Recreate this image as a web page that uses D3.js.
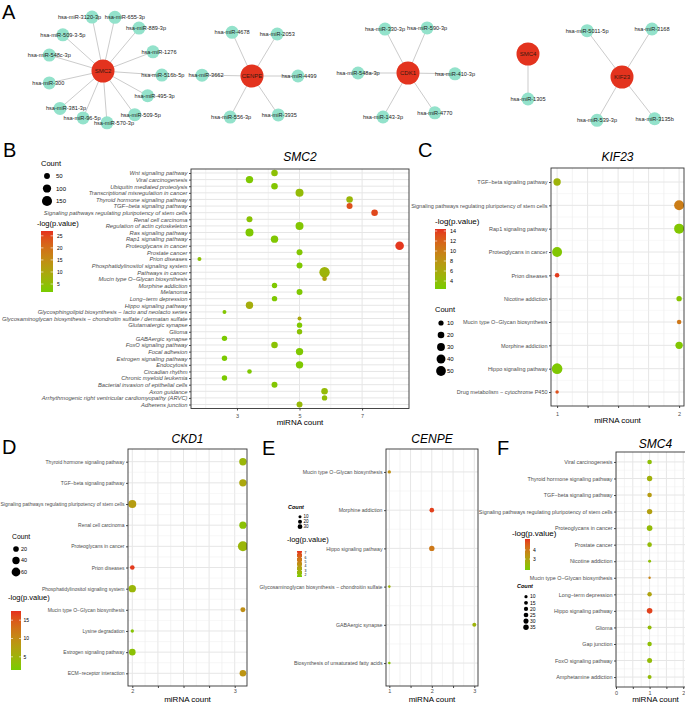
<!DOCTYPE html>
<html><head><meta charset="utf-8">
<script src="https://cdn.jsdelivr.net/npm/d3@7"></script>
<style>body{margin:0;background:#fff}svg{display:block;font-family:"Liberation Sans",Arial,sans-serif}</style>
</head><body><svg id="chart" width="685" height="703"></svg>
<script>
// ================= DATA =================
// Panel A: hub genes and their target miRNAs
const hubGenes = ["SMC2", "CENPE", "CDK1", "SMC4", "KIF23"];
const smc2Targets = ["hsa-miR-3120-3p","hsa-miR-655-3p","hsa-miR-889-3p","hsa-miR-509-3-5p","hsa-miR-1276","hsa-miR-548c-3p","hsa-miR-516b-5p","hsa-miR-300","hsa-miR-495-3p","hsa-miR-381-3p","hsa-miR-509-5p","hsa-miR-96-5p","hsa-miR-570-3p"];
const cenpeTargets = ["hsa-miR-4678","hsa-miR-2053","hsa-miR-3662","hsa-miR-4499","hsa-miR-556-3p","hsa-miR-3935"];
const cdk1Targets = ["hsa-miR-330-3p","hsa-miR-590-3p","hsa-miR-548a-3p","hsa-miR-410-3p","hsa-miR-143-3p","hsa-miR-4770"];
const smc4Targets = ["hsa-miR-1305"];
const kif23Targets = ["hsa-miR-5011-5p","hsa-miR-3168","hsa-miR-539-3p","hsa-miR-3135b"];

// Panel B: SMC2
const smc2Pathways = ["Wnt signaling pathway","Viral carcinogenesis","Ubiquitin mediated proteolysis","Transcriptional misregulation in cancer","Thyroid hormone signaling pathway","TGF\u2212beta signaling pathway","Signaling pathways regulating pluripotency of stem cells","Renal cell carcinoma","Regulation of actin cytoskeleton","Ras signaling pathway","Rap1 signaling pathway","Proteoglycans in cancer","Prostate cancer","Prion diseases","Phosphatidylinositol signaling system","Pathways in cancer","Mucin type O\u2212Glycan biosynthesis","Morphine addiction","Melanoma","Long\u2212term depression","Hippo signaling pathway","Glycosphingolipid biosynthesis \u2212 lacto and neolacto series","Glycosaminoglycan biosynthesis \u2212 chondroitin sulfate / dermatan sulfate","Glutamatergic synapse","Glioma","GABAergic synapse","FoxO signaling pathway","Focal adhesion","Estrogen signaling pathway","Endocytosis","Circadian rhythm","Chronic myeloid leukemia","Bacterial invasion of epithelial cells","Axon guidance","Arrhythmogenic right ventricular cardiomyopathy (ARVC)","Adherens junction"];
const smc2MirnaCount = [4.2,3.4,4.2,5.0,6.6,6.6,7.4,3.4,5.0,3.4,4.2,8.2,5.0,1.8,5.0,5.8,5.8,4.2,5.0,4.2,3.4,2.6,5.0,5.0,5.0,2.6,4.2,5.0,2.6,5.0,3.4,2.6,4.2,5.8,5.8,5.0];
const smc2GeneCount = [63,80,63,94,63,52,63,52,94,94,80,109,52,22,52,160,30,42,52,42,80,22,22,42,42,42,63,80,42,80,30,42,52,63,42,52];
const smc2LogP = [4.5,2.5,3,5.5,6.5,24,25,4,3,2.5,2.8,26.5,3,4.5,2.5,7,11,2.5,2.5,2.5,8.5,3,9.5,2.5,4,2.2,4,2.5,2.2,2.5,2.5,2.2,3,5.5,5,6];
const smc2XTicks = [3,5,7];
const smc2CountBreaks = [50,100,150];
const smc2LogPBreaks = [5,10,15,20,25];

// Panel C: KIF23
const kif23Pathways = ["TGF\u2212beta signaling pathway","Signaling pathways regulating pluripotency of stem cells","Rap1 signaling pathway","Proteoglycans in cancer","Prion diseases","Nicotine addiction","Mucin type O\u2212Glycan biosynthesis","Morphine addiction","Hippo signaling pathway","Drug metabolism \u2212 cytochrome P450"];
const kif23MirnaCount = [1,2,2,1,1,2,2,2,1,1];
const kif23GeneCount = [26,52,53,52,6,11,6,26,60,1];
const kif23LogP = [5,10,3,3,14,3.3,10.5,3,2.8,13];
const kif23XTicks = [1,1.25,1.5,1.75,2];
const kif23XLabels = [1,2];
const kif23CountBreaks = [10,20,30,40,50];
const kif23LogPBreaks = [4,6,8,10,12,14];

// Panel D: CDK1
const cdk1Pathways = ["Thyroid hormone signaling pathway","TGF\u2212beta signaling pathway","Signaling pathways regulating pluripotency of stem cells","Renal cell carcinoma","Proteoglycans in cancer","Prion diseases","Phosphatidylinositol signaling system","Mucin type O\u2212Glycan biosynthesis","Lysine degradation","Estrogen signaling pathway","ECM\u2212receptor interaction"];
const cdk1MirnaCount = [3.08,3.08,2,3.08,3.08,2,2,3.08,2,2,3.08];
const cdk1GeneCount = [40,40,48,38,80,11,40,14,2,30,30];
const cdk1LogP = [4.5,6.5,8,3,4.5,17,4.5,9.5,2.5,3,9];
const cdk1XTicks = [2,2.25,2.5,2.75,3];
const cdk1XLabels = [2,3];
const cdk1CountBreaks = [20,40,60];
const cdk1LogPBreaks = [5,10,15];

// Panel E: CENPE
const cenpePathways = ["Mucin type O\u2212Glycan biosynthesis","Morphine addiction","Hippo signaling pathway","Glycosaminoglycan biosynthesis \u2212 chondroitin sulfate","GABAergic synapse","Biosynthesis of unsaturated fatty acids"];
const cenpeMirnaCount = [1,2,2,1,3,1];
const cenpeGeneCount = [13,28,40,6,20,6];
const cenpeLogP = [4.5,7.2,5.5,2.8,2.8,2];
const cenpeXTicks = [1,1.5,2,2.5,3];
const cenpeXLabels = [1,2,3];
const cenpeCountBreaks = [10,20,30];
const cenpeLogPBreaks = [2,3,4,5,6,7];

// Panel F: SMC4
const smc4Pathways = ["Viral carcinogenesis","Thyroid hormone signaling pathway","TGF\u2212beta signaling pathway","Signaling pathways regulating pluripotency of stem cells","Proteoglycans in cancer","Prostate cancer","Nicotine addiction","Mucin type O\u2212Glycan biosynthesis","Long\u2212term depression","Hippo signaling pathway","Glioma","Gap junction","FoxO signaling pathway","Amphetamine addiction"];
const smc4MirnaCount = [1,1,1,1,1,1,1,1,1,1,1,1,1,1];
const smc4GeneCount = [24,34,24,34,37,24,8,4,22,37,17,22,29,17];
const smc4LogP = [2.2,2.6,3.2,3.1,2.3,2.3,2.2,3.8,3.0,5.0,2.3,2.2,2.3,2.3];
const smc4XTicks = [0,0.5,1,1.5,2];
const smc4XLabels = [0,1,2];
const smc4CountBreaks = [10,15,20,25,30,35];
const smc4LogPBreaks = [3,4];

// ================= LAYOUT / STYLE =================
const LOW = "#78CC00", HIGH = "#E5301E";
const FONT = "'Liberation Sans', Arial, sans-serif";
const hubLayout = {SMC2:[103,71], CENPE:[252,76], CDK1:[408,73], SMC4:[528,54], KIF23:[622,77]};
// angle (deg), distance and label x-nudge of each target around its hub
const targetPolar = {
  SMC2: [[-101.5,55,-12.5],[-77.5,55,10],[-50,56,7],[-138,54,0],[-21,53.5,6],[-163.5,56,0],[4,59,1],[167.5,55,-1],[29,51,7],[139,57,6],[54,54,6],[113,51,-1],[85.6,52,7]],
  CENPE: [[-114.5,48,0],[-59,49,0],[181,50,4],[0,46,1],[118,46.5,1],[56,47,1]],
  CDK1: [[-117.6,49.6,0],[-67,49,0],[180,50,0],[1,47,0],[119.6,50.6,0],[56,48,0]],
  SMC4: [[90,45,0]],
  KIF23: [[-127,58,0],[-58,56.6,0],[120,50,0],[52,53,0]]
};
const targetLists = {SMC2:smc2Targets, CENPE:cenpeTargets, CDK1:cdk1Targets, SMC4:smc4Targets, KIF23:kif23Targets};

const svg = d3.select("#chart");
svg.append("rect").attr("width",685).attr("height",703).attr("fill","#fff");

// ---------- Panel A ----------
(function(){
  const gA = svg.append("g");
  const nodes = [], links = [];
  hubGenes.forEach(h => {
    const [cx, cy] = hubLayout[h];
    targetLists[h].forEach((m, i) => {
      const [ang, dist, ldx] = targetPolar[h][i];
      const a = ang * Math.PI / 180;
      const n = {name:m, x: cx + dist*Math.cos(a), y: cy + dist*Math.sin(a), ldx};
      nodes.push(n);
      links.push({x1:cx, y1:cy, x2:n.x, y2:n.y});
    });
  });
  gA.selectAll("line.edge").data(links).join("line").attr("class","edge")
    .attr("x1",d=>d.x1).attr("y1",d=>d.y1).attr("x2",d=>d.x2).attr("y2",d=>d.y2)
    .attr("stroke","#a8a8a8").attr("stroke-width",0.6);
  gA.selectAll("circle.mi").data(nodes).join("circle").attr("class","mi")
    .attr("cx",d=>d.x).attr("cy",d=>d.y).attr("r",6.5).attr("fill","#93E2CB");
  gA.selectAll("circle.hub").data(hubGenes).join("circle").attr("class","hub")
    .attr("cx",d=>hubLayout[d][0]).attr("cy",d=>hubLayout[d][1]).attr("r",11.5).attr("fill","#E3331E");
  gA.selectAll("text.mi").data(nodes).join("text").attr("class","mi")
    .attr("x",d=>d.x + d.ldx).attr("y",d=>d.y).attr("dy","0.35em").attr("text-anchor","middle")
    .style("font-size","5.6px").attr("fill","#222").text(d=>d.name);
  gA.selectAll("text.hub").data(hubGenes).join("text").attr("class","hub")
    .attr("x",d=>hubLayout[d][0]).attr("y",d=>hubLayout[d][1]).attr("dy","0.35em").attr("text-anchor","middle")
    .style("font-size","6px").attr("fill","#3a1a10").text(d=>d);
})();

// ---------- Dot plot helper ----------
let clipId = 0;
function drawDotPanel(d, L) {
  const [x0,y0,x1,y1] = L.box;
  const g = svg.append("g");
  const x = d3.scaleLinear().domain(L.xDomain).range([x0,x1]);
  const y = d3.scalePoint().domain(d.pathways).range([y0,y1]).padding(0.6);
  const color = d3.scaleLinear().domain(L.colorDomain).range([LOW,HIGH]).interpolate(d3.interpolateLab).clamp(true);
  const area = d3.scaleLinear().domain(L.sizeDomain).range([L.rRange[0]**2, L.rRange[1]**2]);
  const r = c => Math.sqrt(Math.max(0.3, area(c)));
  const id = "clip" + (clipId++);
  svg.append("clipPath").attr("id",id).append("rect").attr("x",x0).attr("y",y0).attr("width",x1-x0).attr("height",y1-y0);

  g.append("rect").attr("x",x0).attr("y",y0).attr("width",x1-x0).attr("height",y1-y0).attr("fill","#fff");
  const grid = g.append("g").attr("clip-path",`url(#${id})`);
  grid.selectAll("line.minor").data(L.minorTicks).join("line")
    .attr("x1",v=>x(v)).attr("x2",v=>x(v)).attr("y1",y0).attr("y2",y1)
    .attr("stroke","#EBEBEB").attr("stroke-width",0.6);
  grid.selectAll("line.majx").data(d.xTicks).join("line")
    .attr("x1",v=>x(v)).attr("x2",v=>x(v)).attr("y1",y0).attr("y2",y1)
    .attr("stroke","#E6E6E6").attr("stroke-width",1);
  grid.selectAll("line.majy").data(d.pathways).join("line")
    .attr("x1",x0).attr("x2",x1).attr("y1",v=>y(v)).attr("y2",v=>y(v))
    .attr("stroke","#E6E6E6").attr("stroke-width",1);
  if (L.minorY) {
    const ys = d.pathways.slice(1).map((p,i)=> (y(p)+y(d.pathways[i]))/2);
    grid.selectAll("line.miny").data(ys).join("line")
      .attr("x1",x0).attr("x2",x1).attr("y1",v=>v).attr("y2",v=>v)
      .attr("stroke","#EFEFEF").attr("stroke-width",0.5);
  }
  const rows = d.pathways.map((p,i)=>({p, xv:d.x[i], c:d.count[i], lp:d.logp[i]}));
  grid.selectAll("circle").data(rows).join("circle")
    .attr("cx",e=>x(e.xv)).attr("cy",e=>y(e.p)).attr("r",e=>r(e.c)).attr("fill",e=>color(e.lp));
  g.append("rect").attr("x",x0).attr("y",y0).attr("width",x1-x0).attr("height",y1-y0)
    .attr("fill","none").attr("stroke","#333").attr("stroke-width",0.9);

  const ya = g.append("g").attr("transform",`translate(${x0},0)`).call(d3.axisLeft(y).tickSize(2).tickPadding(1.5));
  ya.select(".domain").remove();
  ya.selectAll(".tick line").attr("stroke","#333").attr("stroke-width",0.9);
  ya.selectAll(".tick text").attr("fill","#4D4D4D").style("font-size",L.yFont+"px")
    .style("font-family",FONT).style("font-style",L.italic?"italic":"normal");
  const xa = g.append("g").attr("transform",`translate(0,${y1})`)
    .call(d3.axisBottom(x).tickValues(d.xTicks).tickSize(2).tickPadding(L.tickPad)
      .tickFormat(v => d.xLabels.includes(v) ? d3.format("d")(v) : ""));
  xa.select(".domain").remove();
  xa.selectAll(".tick line").attr("stroke","#333").attr("stroke-width",0.9);
  xa.selectAll(".tick text").attr("fill","#4D4D4D").style("font-size","5.5px").style("font-family",FONT);

  svg.append("text").attr("x",(x0+x1)/2).attr("y",L.titleY).attr("text-anchor","middle")
    .style("font-size","12px").style("font-style","italic").attr("fill","#000").text(d.title);
  svg.append("text").attr("x",(x0+x1)/2).attr("y",L.xTitleY).attr("text-anchor","middle")
    .style("font-size","8px").attr("fill","#000").text("miRNA count");

  // legends
  const CL = L.countLegend;
  const cg = svg.append("g");
  cg.append("text").attr("x",CL.x).attr("y",CL.y).style("font-size",CL.titleSize+"px")
    .style("font-weight",CL.bold?"bold":"normal").style("font-style",CL.bold?"italic":"normal").text("Count");
  cg.selectAll("circle").data(d.countBreaks).join("circle")
    .attr("cx",CL.cx).attr("cy",(v,i)=>CL.y0+i*CL.step).attr("r",v=>r(v)).attr("fill","#000");
  cg.selectAll("text.lab").data(d.countBreaks).join("text").attr("class","lab")
    .attr("x",CL.lx).attr("y",(v,i)=>CL.y0+i*CL.step).attr("dy","0.35em")
    .style("font-size",CL.labSize+"px").attr("fill","#000").text(v=>v);

  const GL = L.colorLegend;
  const gid = "grad" + id;
  const grad = svg.append("defs").append("linearGradient").attr("id",gid)
    .attr("x1",0).attr("y1",1).attr("x2",0).attr("y2",0);
  d3.range(0,1.0001,0.1).forEach(t => grad.append("stop").attr("offset",t)
    .attr("stop-color",color(L.colorDomain[0]+t*(L.colorDomain[1]-L.colorDomain[0]))));
  const lg = svg.append("g");
  lg.append("text").attr("x",GL.tx).attr("y",GL.ty).style("font-size",GL.titleSize+"px").text("-log(p.value)");
  lg.append("rect").attr("x",GL.x).attr("y",GL.y0).attr("width",GL.w).attr("height",GL.y1-GL.y0).attr("fill",`url(#${gid})`);
  const by = d3.scaleLinear().domain(L.colorDomain).range([GL.y1,GL.y0]);
  d.logpBreaks.forEach(v => {
    lg.append("line").attr("x1",GL.x).attr("x2",GL.x+GL.w*0.2).attr("y1",by(v)).attr("y2",by(v)).attr("stroke","#fff").attr("stroke-width",0.6);
    lg.append("line").attr("x1",GL.x+GL.w*0.8).attr("x2",GL.x+GL.w).attr("y1",by(v)).attr("y2",by(v)).attr("stroke","#fff").attr("stroke-width",0.6);
    lg.append("text").attr("x",GL.x+GL.w+GL.lgap).attr("y",by(v)).attr("dy","0.35em")
      .style("font-size",GL.labSize+"px").attr("fill","#000").text(v);
  });
}

drawDotPanel(
  {title:"SMC2", pathways:smc2Pathways, x:smc2MirnaCount, count:smc2GeneCount, logp:smc2LogP,
   xTicks:smc2XTicks, xLabels:smc2XTicks, countBreaks:smc2CountBreaks, logpBreaks:smc2LogPBreaks},
  {box:[191,169,409,408.5], xDomain:[1.53,8.5], minorTicks:[2,4,6,8], yFont:5.8, italic:true,
   colorDomain:[1.7,27], sizeDomain:[20,160], rRange:[1.9,5.2], titleY:161, xTitleY:425, tickPad:3.6,
   countLegend:{x:41,y:166,titleSize:7.5,cx:47,lx:56,y0:176,step:12.5,labSize:6},
   colorLegend:{tx:37,ty:226,titleSize:7.5,x:41,w:12,y0:231,y1:292,lgap:4,labSize:5}});

drawDotPanel(
  {title:"KIF23", pathways:kif23Pathways, x:kif23MirnaCount, count:kif23GeneCount, logp:kif23LogP,
   xTicks:kif23XTicks, xLabels:kif23XLabels, countBreaks:kif23CountBreaks, logpBreaks:kif23LogPBreaks},
  {box:[551,168,684,406], xDomain:[0.95,2.04], minorTicks:[1.125,1.375,1.625,1.875], yFont:5.5, minorY:true,
   colorDomain:[2.4,14.4], sizeDomain:[0,60], rRange:[1.6,5.3], titleY:161, xTitleY:423, tickPad:4,
   countLegend:{x:435,y:312,titleSize:7.5,cx:441,lx:447,y0:323,step:12,labSize:6},
   colorLegend:{tx:435,ty:224,titleSize:8,x:435,w:11,y0:229,y1:289,lgap:4,labSize:5.5}});

drawDotPanel(
  {title:"CKD1", pathways:cdk1Pathways, x:cdk1MirnaCount, count:cdk1GeneCount, logp:cdk1LogP,
   xTicks:cdk1XTicks, xLabels:cdk1XLabels, countBreaks:cdk1CountBreaks, logpBreaks:cdk1LogPBreaks},
  {box:[128,449,247,686], xDomain:[1.958,3.12], minorTicks:[2.125,2.375,2.625,2.875], yFont:5.0, minorY:true,
   colorDomain:[1.4,17.5], sizeDomain:[0,80], rRange:[1.5,5], titleY:443, xTitleY:702, tickPad:1.3,
   countLegend:{x:12,y:539,titleSize:6.8,cx:16,lx:21,y0:549,step:11.5,labSize:5.4},
   colorLegend:{tx:8,ty:600,titleSize:7.5,x:11,w:10,y0:611,y1:670,lgap:2.5,labSize:5}});

drawDotPanel(
  {title:"CENPE", pathways:cenpePathways, x:cenpeMirnaCount, count:cenpeGeneCount, logp:cenpeLogP,
   xTicks:cenpeXTicks, xLabels:cenpeXLabels, countBreaks:cenpeCountBreaks, logpBreaks:cenpeLogPBreaks},
  {box:[386,449,478,686], xDomain:[0.922,3.087], minorTicks:[1.25,1.75,2.25,2.75], yFont:5.2, minorY:true,
   colorDomain:[1.5,7.5], sizeDomain:[0,40], rRange:[0.8,2.7], titleY:443, xTitleY:702, tickPad:1.3,
   countLegend:{x:288,y:509,titleSize:5.5,bold:true,cx:300,lx:303.5,y0:516.7,step:5,labSize:4.5},
   colorLegend:{tx:287,ty:542,titleSize:7.5,x:297,w:5,y0:551,y1:577,lgap:2.5,labSize:3.5}});

drawDotPanel(
  {title:"SMC4", pathways:smc4Pathways, x:smc4MirnaCount, count:smc4GeneCount, logp:smc4LogP,
   xTicks:smc4XTicks, xLabels:smc4XLabels, countBreaks:smc4CountBreaks, logpBreaks:smc4LogPBreaks},
  {box:[616,452,695,687], xDomain:[0,2.351], minorTicks:[0.25,0.75,1.25,1.75,2.25], yFont:5.4, minorY:true,
   colorDomain:[1.8,5.2], sizeDomain:[0,40], rRange:[0.8,2.9], titleY:448, xTitleY:702, tickPad:1.6,
   countLegend:{x:517,y:588,titleSize:5.5,bold:true,cx:526,lx:530,y0:596.7,step:6.1,labSize:5},
   colorLegend:{tx:512,ty:536,titleSize:8,x:525,w:5,y0:539,y1:570,lgap:3,labSize:5}});

// panel letters
const panelLetters = [["A",2,18.5],["B",3,157],["C",418,157],["D",2,454],["E",262,455],["F",497,455]];
svg.selectAll("text.letter").data(panelLetters).join("text").attr("class","letter")
  .attr("x",d=>d[1]).attr("y",d=>d[2]).style("font-size","20px").attr("fill","#000").text(d=>d[0]);
</script></body></html>
